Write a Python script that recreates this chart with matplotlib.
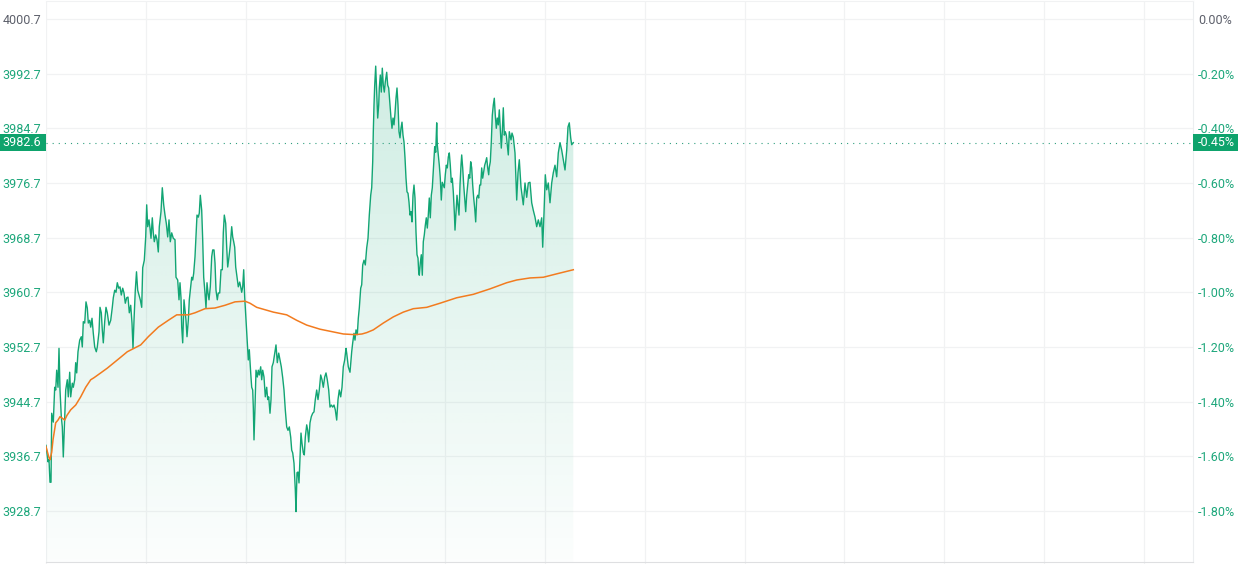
import numpy as np
import matplotlib
matplotlib.use("Agg")
import matplotlib.pyplot as plt
from matplotlib.patches import Polygon, Rectangle
from matplotlib.transforms import blended_transform_factory
from matplotlib.colors import to_rgb

plt.rcParams['font.family'] = ['Roboto', 'DejaVu Sans']

# intraday price (minutes since open, price)
time_min = [
    0.00, 0.40, 0.60, 0.80, 1.00, 1.06, 1.14, 1.46, 1.74, 1.94,
    2.14, 2.40, 2.60, 2.80, 3.06, 3.26, 3.46, 3.74, 3.94, 4.26,
    4.46, 4.74, 4.94, 5.26, 5.46, 5.74, 5.94, 6.14, 6.40, 6.74,
    7.06, 7.26, 7.46, 7.74, 8.00, 8.26, 8.46, 8.74, 8.94, 9.20,
    9.46, 9.74, 10.06, 10.26, 10.60, 10.80, 11.06, 11.26, 11.46, 11.74,
    12.00, 12.26, 12.60, 12.94, 13.26, 13.46, 13.74, 14.00, 14.26, 14.54,
    14.80, 15.06, 15.34, 15.60, 15.86, 16.14, 16.40, 16.66, 16.94, 17.20,
    17.40, 17.60, 17.86, 18.10, 18.34, 18.60, 18.86, 19.14, 19.34, 19.66,
    19.94, 20.14, 20.34, 20.60, 20.80, 21.00, 21.26, 21.46, 21.66, 21.94,
    22.20, 22.46, 22.66, 23.00, 23.26, 23.54, 23.80, 24.06, 24.34, 24.60,
    24.86, 25.14, 25.46, 25.80, 26.00, 26.34, 26.60, 26.80, 27.00, 27.14,
    27.34, 27.60, 27.80, 28.00, 28.20, 28.46, 28.66, 28.86, 29.14, 29.34,
    29.54, 29.80, 30.00, 30.20, 30.46, 30.66, 30.86, 31.14, 31.34, 31.54,
    31.80, 32.00, 32.20, 32.40, 32.60, 32.86, 33.14, 33.34, 33.60, 33.80,
    34.00, 34.26, 34.46, 34.74, 35.00, 35.26, 35.46, 35.66, 35.94, 36.14,
    36.34, 36.60, 36.86, 37.14, 37.34, 37.54, 37.74, 37.94, 38.20, 38.46,
    38.74, 38.94, 39.14, 39.34, 39.54, 39.74, 40.00, 40.20, 40.46, 40.66,
    40.94, 41.14, 41.34, 41.46, 41.60, 41.80, 42.00, 42.26, 42.46, 42.66,
    42.94, 43.14, 43.34, 43.60, 43.86, 44.14, 44.34, 44.54, 44.80, 45.00,
    45.20, 45.46, 45.74, 46.00, 46.26, 46.54, 46.80, 47.06, 47.34, 47.60,
    47.86, 48.14, 48.40, 48.66, 48.94, 49.14, 49.34, 49.60, 49.86, 50.00,
    50.20, 50.40, 50.60, 50.80, 51.00, 51.20, 51.46, 51.66, 51.86, 52.14,
    52.34, 52.54, 52.80, 53.06, 53.34, 53.60, 53.86, 54.14, 54.40, 54.66,
    54.94, 55.20, 55.46, 55.74, 56.00, 56.26, 56.54, 56.80, 57.06, 57.34,
    57.60, 57.86, 58.14, 58.40, 58.66, 58.94, 59.20, 59.46, 59.74, 60.00,
    60.14, 60.46, 60.80, 61.14, 61.34, 61.60, 61.80, 62.00, 62.26, 62.46,
    62.66, 62.94, 63.14, 63.34, 63.60, 63.86, 64.14, 64.40, 64.66, 64.94,
    65.14, 65.34, 65.46, 65.60, 65.74, 65.94, 66.14, 66.34, 66.54, 66.66,
    66.86, 67.06, 67.26, 67.46, 67.66, 67.86, 68.14, 68.34, 68.54, 68.80,
    69.00, 69.20, 69.40, 69.60, 69.80, 70.00, 70.20, 70.40, 70.60, 70.80,
    71.00, 71.20, 71.40, 71.60, 71.80, 72.00, 72.20, 72.40, 72.60, 72.80,
    73.00, 73.20, 73.40, 73.60, 73.80, 74.00, 74.20, 74.40, 74.54, 74.66,
    74.86, 75.06, 75.26, 75.46, 75.66, 75.86, 76.06, 76.26, 76.46, 76.66,
    76.86, 77.06, 77.26, 77.46, 77.74, 77.94, 78.14, 78.26, 78.46, 78.66,
    78.86, 79.06, 79.26, 79.46, 79.66, 79.86, 80.06, 80.26, 80.46, 80.66,
    80.86, 81.06, 81.26, 81.46, 81.66, 81.80, 82.00, 82.20, 82.40, 82.60,
    82.80, 83.00, 83.14, 83.34, 83.54, 83.74, 83.94, 84.14, 84.34, 84.54,
    84.74, 84.94, 85.14, 85.34, 85.54, 85.74, 85.94, 86.14, 86.34, 86.54,
    86.74, 86.94, 87.14, 87.34, 87.54, 87.74, 87.94, 88.14, 88.34, 88.54,
    88.66, 88.86, 89.06, 89.26, 89.46, 89.66, 89.86, 90.06, 90.26, 90.46,
    90.66, 90.86, 91.06, 91.26, 91.46, 91.66, 91.86, 92.06, 92.26, 92.46,
    92.66, 93.00, 93.20, 93.46, 93.80, 94.14, 94.40, 94.66, 95.00, 95.46,
    95.80, 96.14, 96.46, 96.80, 97.14, 97.46, 97.80, 98.14, 98.46, 98.80,
    99.14, 99.34, 99.60, 99.86, 100.14, 100.46, 100.80, 101.14, 101.46, 101.80,
    102.14, 102.46, 102.80, 103.14, 103.46, 103.80, 104.14, 104.40, 104.66, 104.94,
    105.14, 105.46,
]
price = [
    3938.3, 3935.9, 3936.2, 3932.9, 3932.9, 3937.3, 3943.0, 3941.7, 3946.8, 3946.4,
    3949.3, 3946.8, 3952.5, 3946.4, 3942.5, 3941.0, 3936.6, 3942.5, 3946.4, 3947.9,
    3945.4, 3949.0, 3945.4, 3947.4, 3946.8, 3947.9, 3950.4, 3948.9, 3952.0, 3953.7,
    3954.2, 3952.7, 3956.4, 3956.2, 3959.3, 3958.4, 3956.2, 3956.6, 3955.6, 3956.9,
    3954.7, 3952.7, 3952.0, 3952.7, 3954.9, 3958.5, 3957.7, 3955.2, 3953.3, 3956.4,
    3958.5, 3957.7, 3955.9, 3956.6, 3958.5, 3959.9, 3961.0, 3960.7, 3962.1, 3961.3,
    3961.5, 3960.3, 3961.3, 3960.6, 3959.1, 3959.9, 3960.0, 3957.7, 3958.8, 3956.2,
    3952.5, 3956.6, 3961.0, 3963.7, 3961.0, 3960.3, 3959.6, 3958.5, 3964.3, 3965.4,
    3968.8, 3973.5, 3970.3, 3971.3, 3970.1, 3968.6, 3971.6, 3969.4, 3968.1, 3969.1,
    3968.4, 3966.6, 3970.3, 3972.5, 3976.0, 3973.5, 3972.0, 3970.8, 3968.8, 3971.3,
    3968.1, 3969.4, 3968.6, 3968.4, 3962.9, 3962.5, 3959.6, 3962.1, 3959.9, 3955.6,
    3953.3, 3959.6, 3958.1, 3956.6, 3954.2, 3956.6, 3959.6, 3961.0, 3962.9, 3962.5,
    3963.5, 3965.9, 3968.8, 3972.0, 3971.7, 3972.3, 3974.9, 3972.7, 3968.4, 3962.9,
    3960.6, 3958.4, 3962.1, 3960.6, 3959.6, 3961.5, 3965.9, 3966.9, 3966.9, 3965.0,
    3961.0, 3959.6, 3960.6, 3960.6, 3964.0, 3964.0, 3969.4, 3972.0, 3970.8, 3967.3,
    3964.4, 3965.9, 3967.6, 3970.3, 3968.8, 3968.1, 3967.3, 3964.4, 3962.9, 3961.5,
    3962.2, 3961.5, 3960.7, 3961.5, 3964.0, 3960.0, 3956.6, 3953.7, 3950.8, 3952.3,
    3948.9, 3946.8, 3946.4, 3943.9, 3939.1, 3943.9, 3949.3, 3948.3, 3949.3, 3948.6,
    3949.8, 3947.9, 3949.3, 3948.3, 3945.4, 3946.8, 3945.0, 3945.4, 3943.0, 3945.0,
    3949.8, 3950.4, 3951.8, 3953.0, 3950.4, 3951.8, 3950.8, 3949.8, 3948.2, 3946.4,
    3943.5, 3941.0, 3940.5, 3941.0, 3939.5, 3937.6, 3937.2, 3935.7, 3931.8, 3928.6,
    3934.3, 3934.4, 3932.8, 3936.6, 3940.1, 3938.6, 3937.2, 3936.9, 3939.5, 3941.3,
    3940.5, 3938.8, 3941.6, 3942.5, 3943.0, 3943.2, 3945.0, 3946.4, 3945.0, 3946.4,
    3948.6, 3947.9, 3946.8, 3948.3, 3948.9, 3947.9, 3946.4, 3943.9, 3944.2, 3943.9,
    3944.2, 3943.5, 3942.0, 3945.0, 3946.4, 3945.4, 3946.8, 3949.8, 3950.8, 3952.5,
    3951.8, 3949.8, 3949.0, 3952.0, 3953.3, 3954.7, 3953.7, 3955.2, 3954.5, 3956.9,
    3958.4, 3961.3, 3961.8, 3964.7, 3965.4, 3964.7, 3967.2, 3968.6, 3972.0, 3974.9,
    3976.0, 3979.8, 3984.2, 3988.1, 3991.0, 3993.8, 3990.0, 3986.2, 3988.1, 3990.6,
    3992.5, 3990.0, 3993.5, 3991.0, 3990.0, 3991.5, 3992.9, 3991.0, 3990.6, 3988.1,
    3986.2, 3984.7, 3986.2, 3985.2, 3986.9, 3989.1, 3990.6, 3988.1, 3984.2, 3983.3,
    3984.7, 3985.6, 3983.7, 3982.7, 3980.4, 3977.4, 3975.4, 3975.2, 3973.9, 3972.0,
    3972.5, 3971.0, 3974.9, 3976.4, 3974.5, 3969.5, 3966.2, 3965.7, 3963.7, 3963.2,
    3965.0, 3966.2, 3963.2, 3968.1, 3969.1, 3970.5, 3971.6, 3970.1, 3972.0, 3974.5,
    3971.6, 3974.9, 3976.0, 3978.6, 3982.0, 3981.2, 3985.5, 3982.3, 3980.8, 3979.3,
    3977.4, 3974.2, 3976.8, 3976.4, 3976.0, 3977.9, 3979.3, 3978.9, 3980.5, 3981.1,
    3979.3, 3976.8, 3977.4, 3975.4, 3972.5, 3969.8, 3972.5, 3974.9, 3973.5, 3972.0,
    3976.4, 3979.3, 3980.8, 3978.9, 3976.4, 3974.5, 3972.5, 3974.9, 3976.4, 3977.9,
    3977.4, 3979.8, 3978.9, 3976.4, 3974.5, 3973.0, 3971.0, 3974.5, 3974.9, 3974.5,
    3976.4, 3976.4, 3978.9, 3977.4, 3978.3, 3979.3, 3979.8, 3980.4, 3978.9, 3977.9,
    3979.0, 3979.8, 3982.7, 3986.6, 3988.1, 3989.1, 3986.6, 3984.7, 3986.2, 3985.2,
    3987.4, 3984.7, 3981.8, 3984.2, 3987.7, 3983.7, 3984.2, 3983.7, 3982.3, 3980.8,
    3984.2, 3983.0, 3984.0, 3983.4, 3981.1, 3974.2, 3978.2, 3980.1, 3976.1, 3973.5,
    3976.7, 3974.6, 3976.7, 3976.8, 3973.8, 3972.7, 3971.7, 3970.3, 3971.3, 3970.3,
    3971.6, 3967.3, 3972.3, 3977.9, 3975.7, 3976.7, 3973.8, 3976.7, 3978.2, 3979.3,
    3977.6, 3981.1, 3982.6, 3981.5, 3980.1, 3978.6, 3981.5, 3984.9, 3985.5, 3983.3,
    3982.3, 3982.6,
]

# average price line
avg_time = [
    0.0, 0.6, 0.8, 1.14, 1.4, 1.94, 2.4, 2.8, 3.2, 3.74,
    4.2, 4.94, 5.94, 6.94, 7.94, 8.94, 9.6, 10.94, 12.26, 13.6,
    14.94, 16.26, 17.6, 18.94, 20.46, 22.46, 24.46, 26.14, 28.46, 29.8,
    31.8, 33.8, 35.8, 37.8, 39.8, 40.8, 42.14, 45.46, 48.14, 50.14,
    52.14, 54.8, 57.46, 59.46, 61.8, 63.2, 64.14, 65.46, 67.46, 69.46,
    71.46, 73.46, 76.14, 78.8, 82.14, 85.46, 88.8, 92.14, 94.14, 96.8,
    99.46, 102.14, 105.46,
]
avg_price = [
    3938.1, 3936.5, 3936.2, 3937.3, 3939.1, 3941.6, 3942.0, 3942.5, 3942.3, 3942.0,
    3942.7, 3943.5, 3944.2, 3945.4, 3946.8, 3947.9, 3948.2, 3948.9, 3949.6, 3950.4,
    3951.2, 3952.0, 3952.5, 3953.0, 3954.2, 3955.6, 3956.6, 3957.4, 3957.4, 3957.7,
    3958.3, 3958.4, 3958.8, 3959.3, 3959.4, 3959.1, 3958.5, 3957.8, 3957.4, 3956.6,
    3955.9, 3955.3, 3954.9, 3954.6, 3954.5, 3954.6, 3954.8, 3955.2, 3956.2, 3957.1,
    3957.8, 3958.3, 3958.5, 3959.1, 3959.9, 3960.4, 3961.2, 3962.1, 3962.5, 3962.8,
    3962.9, 3963.4, 3964.0,
]

prev_close = 4000.7
price_ticks = [4000.7, 3992.7, 3984.7, 3976.7, 3968.7, 3960.7, 3952.7, 3944.7, 3936.7, 3928.7]

GREEN = '#12a574'
LABEL_GREEN = '#1da77b'
GRAY_TXT = '#5d606b'
ORANGE = '#f27b1f'
GRID = '#f1f2f3'

W, H = 1245, 564
fig = plt.figure(figsize=(W / 100, H / 100), dpi=100)
ax = fig.add_axes([46 / W, 2 / H, (1193 - 46) / W, (562 - 1) / H])

t = np.array(time_min)
p = np.array(price)
ylo, yhi = 3921.23, 4003.33
xmax = 229.4

# gradient area under the price line
verts = np.column_stack([np.r_[t[0], t, t[-1]], np.r_[ylo, p, ylo]])
poly = Polygon(verts, closed=True, facecolor='none', edgecolor='none')
ax.add_patch(poly)
grad = np.zeros((256, 1, 4))
grad[..., :3] = to_rgb(GREEN)
grad[:, 0, 3] = np.linspace(0.2, 0.015, 256)
im = ax.imshow(grad, aspect='auto', extent=[t[0], t[-1], ylo, p.max()],
               origin='upper', zorder=1, interpolation='bilinear')
im.set_clip_path(poly)

ax.plot(t, p, color=GREEN, lw=1.0, zorder=3)
ax.plot(avg_time, avg_price, color=ORANGE, lw=1.1, zorder=4)

last = price[-1]
ax.axhline(last, color='#2f9f7f', lw=0.8, linestyle=(0, (1, 4.5)), zorder=2)

ax.set_xlim(0, xmax)
ax.set_ylim(ylo, yhi)
ax.set_xticks(np.arange(0, xmax, 19.96))
ax.set_xticklabels([])
ax.tick_params(axis='x', length=1.6, color=GRID)
ax.grid(True, color=GRID, lw=0.9)
ax.set_axisbelow(True)

ax.set_yticks(price_ticks, [f'{v:.1f}' for v in price_ticks])
ax.tick_params(axis='y', length=0, pad=3.6, labelsize=9)
for i, lbl in enumerate(ax.get_yticklabels()):
    lbl.set_color(GRAY_TXT if i == 0 else LABEL_GREEN)

ax.spines['left'].set_visible(False)
ax.spines['top'].set_color(GRID)
ax.spines['right'].set_color('#eceef0')
ax.spines['bottom'].set_color('#dedfe1')

ax2 = ax.twinx()
ax2.set_ylim(ylo, yhi)
pct = [(v / prev_close - 1) * 100 for v in price_ticks]
ax2.set_yticks(price_ticks, [f'{abs(v):.2f}%' if abs(v) < 0.005 else f'{v:.2f}%' for v in pct])
ax2.tick_params(axis='y', length=0, pad=3.6, labelsize=9)
for i, lbl in enumerate(ax2.get_yticklabels()):
    lbl.set_color(GRAY_TXT if i == 0 else LABEL_GREEN)
for s in ax2.spines.values():
    s.set_visible(False)

# last-price label boxes on both scales
box_h = 2.55
tr = blended_transform_factory(fig.transFigure, ax.transData)
fig.add_artist(Rectangle((0, last - box_h / 2), 46 / W, box_h, transform=tr,
                         facecolor='#0ea36c', edgecolor='none'))
fig.text(41 / W, last, f'{last:.1f}', transform=tr, ha='right', va='center',
         color='white', fontsize=9)
fig.add_artist(Rectangle((1193 / W, last - box_h / 2), 45 / W, box_h, transform=tr,
                         facecolor='#0ea36c', edgecolor='none'))
last_pct = (last / prev_close - 1) * 100
fig.text(1198 / W, last, f'{last_pct:.2f}%', transform=tr, ha='left', va='center',
         color='white', fontsize=9)

fig.savefig('out.png', dpi=100)
